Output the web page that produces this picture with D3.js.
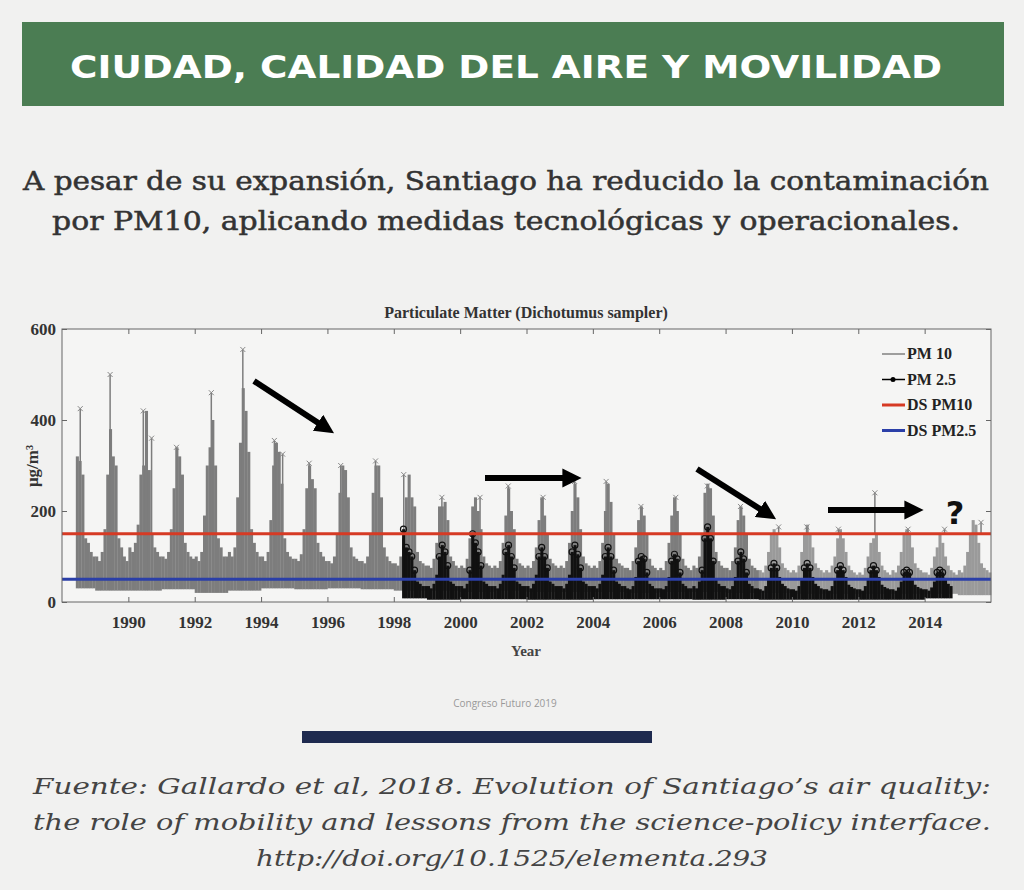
<!DOCTYPE html>
<html><head><meta charset="utf-8">
<script src="https://cdn.jsdelivr.net/npm/d3@7"></script>
<style>body{margin:0;background:#f1f1f0}svg{display:block}</style>
</head><body>
<script>
const years = d3.range(1988, 2016);
const pm10High = [
 [null,null,null,null,null,320,310,280,140,130,110,100],
 [100,90,110,160,280,380,320,300,140,120,100,90],
 [120,110,130,170,280,300,420,290,150,120,110,100],
 [100,95,110,160,250,340,320,280,130,110,100,95],
 [100,90,110,190,300,340,400,300,140,120,100,100],
 [110,100,120,230,350,470,420,330,160,130,110,100],
 [100,90,110,180,300,350,330,260,140,110,100,95],
 [95,90,105,160,250,300,270,250,130,110,100,90],
 [90,85,100,150,240,300,290,230,120,100,95,90],
 [90,85,100,150,240,300,300,230,120,100,90,85],
 [85,80,100,140,230,280,230,210,110,90,85,80],
 [80,75,95,130,210,210,220,180,100,90,80,75],
 [80,75,95,140,210,230,200,160,100,85,80,75],
 [80,75,90,130,190,250,200,160,95,85,80,75],
 [80,75,90,120,180,230,190,150,95,85,80,75],
 [80,75,90,130,200,260,230,160,100,85,80,75],
 [80,75,90,130,200,260,220,150,95,85,80,75],
 [75,70,90,120,180,210,190,150,95,80,75,70],
 [75,70,90,130,190,230,200,150,95,80,75,70],
 [80,75,100,150,240,260,250,190,110,90,80,75],
 [75,70,90,120,180,210,190,150,95,80,75,70],
 [70,65,80,110,150,160,150,120,85,75,70,65],
 [70,65,80,110,150,170,150,120,85,75,70,65],
 [70,65,80,100,140,160,140,110,80,70,65,60],
 [65,60,75,100,130,140,150,110,80,70,65,60],
 [70,65,80,110,150,160,150,120,85,75,70,65],
 [65,60,75,100,120,150,130,100,80,70,65,60],
 [70,65,80,110,150,180,170,130,85,75,70,65]
];
const pm10Low = [30,25,25,28,20,25,30,28,30,28,25,25,22,25,22,22,22,20,22,22,20,20,18,18,18,18,18,15];
const pm10Spikes = [[1988.55,425],[1989.45,500],[1990.45,420],[1990.7,360],[1991.45,340],[1992.5,460],[1993.45,555],[1994.4,355],[1994.65,325],[1995.45,305],[1996.4,300],[1997.45,310],[1998.3,280],[1999.45,230],[2000.6,230],[2001.45,255],[2002.5,230],[2003.45,265],[2004.4,265],[2005.45,210],[2006.5,230],[2007.45,255],[2008.45,210],[2009.6,165],[2010.45,165],[2011.4,160],[2012.5,240],[2013.5,160],[2014.6,160],[2015.7,175]];
const pm25Years = d3.range(1998, 2015);
const pm25High = [
 [null,null,null,160,120,110,100,70,45,40,35,35],
 [35,30,40,60,100,125,110,80,45,40,35,35],
 [35,30,40,70,150,130,110,80,45,40,35,35],
 [35,30,40,60,110,125,100,75,45,40,35,35],
 [35,30,40,60,100,120,100,75,45,40,35,35],
 [35,30,40,60,110,125,105,75,45,40,35,35],
 [35,30,40,60,100,120,100,70,45,40,35,35],
 [30,28,35,55,90,100,95,65,40,35,30,30],
 [30,28,35,55,90,105,95,65,40,35,30,30],
 [35,30,45,70,140,165,140,90,50,40,35,35],
 [30,28,35,55,90,110,95,65,40,35,30,30],
 [28,25,35,50,75,85,75,55,40,35,30,28],
 [28,25,35,50,75,85,75,55,40,35,30,28],
 [28,25,35,50,70,80,70,55,38,33,30,28],
 [28,25,35,50,70,80,70,55,38,33,30,28],
 [28,25,32,45,65,70,65,50,38,33,30,28],
 [28,25,32,45,65,70,65,50,40,35,null,null]
];
const pm25Low = [8,5,6,6,5,5,6,6,6,5,6,5,5,5,5,5,8];
const yTicks = [0,200,400,600];
const xTicks = d3.range(1990, 2016, 2);
const dsPM10 = 150, dsPM25 = 50;
const legendItems = ["PM 10","PM 2.5","DS PM10","DS PM2.5"];
const legendColors = ["#808080","#000","#d63a24","#2b3fa8"];
const titleText = "CIUDAD, CALIDAD DEL AIRE Y MOVILIDAD";
const subtitle = ["A pesar de su expansión, Santiago ha reducido la contaminación","por PM10, aplicando medidas tecnológicas y operacionales."];
const footer = ["Fuente: Gallardo et al, 2018. Evolution of Santiago’s air quality:","the role of mobility and lessons from the science-policy interface.","http://doi.org/10.1525/elementa.293"];

const svg = d3.select("body").append("svg").attr("width",1024).attr("height",890);
svg.append("rect").attr("width",1024).attr("height",890).attr("fill","#f1f1f0");
svg.append("rect").attr("x",22).attr("y",22).attr("width",982).attr("height",84).attr("fill","#4b7d53");
svg.append("text").attr("x",506).attr("y",78).attr("text-anchor","middle").attr("fill","#fff")
 .attr("font-family","DejaVu Sans").attr("font-weight","bold").attr("font-size",32)
 .attr("textLength",872).attr("lengthAdjust","spacingAndGlyphs").text(titleText);
subtitle.forEach((s,i)=>svg.append("text").attr("x",506).attr("y",190+i*40).attr("text-anchor","middle")
 .attr("fill","#333").attr("font-family","DejaVu Serif").attr("font-size",26)
 .attr("stroke","#333").attr("stroke-width",0.5)
 .attr("textLength",i?908:966).attr("lengthAdjust","spacingAndGlyphs").text(s));

const x = d3.scaleLinear().domain([1988,2016]).range([62,991]);
const y = d3.scaleLinear().domain([0,600]).range([602,329]);
const g = svg.append("g");
g.append("rect").attr("x",62).attr("y",329).attr("width",929).attr("height",273).attr("fill","#f5f5f4");
const mw = x(1988+1/12)-x(1988);

years.forEach((yr,i)=>pm10High[i].forEach((v,m)=>{ if(v==null) return;
 g.append("rect").attr("x",x(yr+m/12)).attr("width",mw+0.3).attr("y",y(v)).attr("height",y(pm10Low[i])-y(v))
  .attr("fill", yr>=2009?"#9a9a9a":"#7d7d7d");
}));
pm10Spikes.forEach(([t,v])=>{
 g.append("line").attr("x1",x(t)).attr("x2",x(t)).attr("y1",y(v)).attr("y2",y(150)).attr("stroke","#7d7d7d").attr("stroke-width",1.5);
 g.append("path").attr("transform",`translate(${x(t)},${y(v)})`).attr("d","M-2.5,-2.5L2.5,2.5M-2.5,2.5L2.5,-2.5").attr("stroke","#888").attr("stroke-width",1);
});
pm25Years.forEach((yr,i)=>pm25High[i].forEach((v,m)=>{ if(v==null) return;
 g.append("rect").attr("x",x(yr+m/12)).attr("width",mw+0.3).attr("y",y(v)).attr("height",y(pm25Low[i])-y(v)).attr("fill","#111");
 if(v>60) g.append("circle").attr("cx",x(yr+(m+0.5)/12)).attr("cy",y(v)).attr("r",3).attr("fill","none").attr("stroke","#111").attr("stroke-width",1.2);
}));
g.append("line").attr("x1",62).attr("x2",991).attr("y1",y(dsPM10)).attr("y2",y(dsPM10)).attr("stroke","#d63a24").attr("stroke-width",3);
g.append("line").attr("x1",62).attr("x2",991).attr("y1",y(dsPM25)).attr("y2",y(dsPM25)).attr("stroke","#2b3fa8").attr("stroke-width",3);

const font = "Liberation Serif";
g.append("rect").attr("x",62).attr("y",329).attr("width",929).attr("height",273).attr("fill","none").attr("stroke","#666");
const ax = g.append("g").attr("transform","translate(0,602)").call(d3.axisBottom(x).tickValues(xTicks).tickFormat(d3.format("d")).tickSize(-5).tickPadding(14));
const axTop = g.append("g").attr("transform","translate(0,329)").call(d3.axisTop(x).tickValues(xTicks).tickFormat("").tickSize(-5));
const ay = g.append("g").attr("transform","translate(62,0)").call(d3.axisLeft(y).tickValues(yTicks).tickSize(-5).tickPadding(6));
const ayR = g.append("g").attr("transform","translate(991,0)").call(d3.axisRight(y).tickValues(yTicks).tickFormat("").tickSize(-5));
[ax,axTop,ay,ayR].forEach(a=>{a.select(".domain").remove();a.selectAll("line").attr("stroke","#666");
 a.selectAll("text").attr("font-family",font).attr("font-weight","bold").attr("font-size",17).attr("fill","#333");});
svg.append("text").attr("x",526).attr("y",656).attr("text-anchor","middle").attr("font-family",font).attr("font-weight","bold").attr("font-size",15).attr("fill","#444").text("Year");
svg.append("text").attr("transform","translate(38,466) rotate(-90)").attr("text-anchor","middle").attr("font-family",font).attr("font-weight","bold").attr("font-size",17).attr("fill","#333").text("μg/m³");
svg.append("text").attr("x",526).attr("y",318).attr("text-anchor","middle").attr("font-family",font).attr("font-weight","bold").attr("font-size",16).attr("fill","#333").text("Particulate Matter (Dichotumus sampler)");

legendItems.forEach((t,i)=>{
 const ly = 354+i*25.5;
 svg.append("line").attr("x1",882).attr("x2",905).attr("y1",ly).attr("y2",ly).attr("stroke",legendColors[i]).attr("stroke-width",i>1?3:1.5);
 if(i===1) svg.append("circle").attr("cx",893).attr("cy",ly).attr("r",2.5).attr("fill","#000");
 svg.append("text").attr("x",907).attr("y",ly+5).attr("font-family",font).attr("font-weight","bold").attr("font-size",16).attr("fill","#222").text(t);
});

const defs = svg.append("defs");
defs.append("marker").attr("id","ah").attr("viewBox","0 0 10 10").attr("refX",5).attr("refY",5).attr("markerWidth",3.2).attr("markerHeight",3.2).attr("orient","auto")
 .append("path").attr("d","M0,0L10,5L0,10z").attr("fill","#000");
[[254,381,326,428],[485,478,572,478],[697,469,768,514],[828,510,914,510]].forEach(a=>
 svg.append("line").attr("x1",a[0]).attr("y1",a[1]).attr("x2",a[2]).attr("y2",a[3]).attr("stroke","#000").attr("stroke-width",6).attr("marker-end","url(#ah)"));
svg.append("text").attr("x",955).attr("y",524).attr("text-anchor","middle").attr("font-family","DejaVu Sans").attr("font-weight","bold").attr("font-size",32).attr("fill","#111").text("?");

svg.append("text").attr("x",505).attr("y",707).attr("text-anchor","middle").attr("font-family","Open Sans").attr("font-size",10).attr("fill","#999").text("Congreso Futuro 2019");
svg.append("rect").attr("x",302).attr("y",731).attr("width",350).attr("height",12).attr("fill","#1e2a4f");
footer.forEach((s,i)=>svg.append("text").attr("x",512).attr("y",794+i*36).attr("text-anchor","middle")
 .attr("fill","#444").attr("font-family","DejaVu Serif").attr("font-style","italic").attr("font-size",22)
 .attr("textLength",[958,958,512][i]).attr("lengthAdjust","spacingAndGlyphs").text(s));
</script>
</body></html>
